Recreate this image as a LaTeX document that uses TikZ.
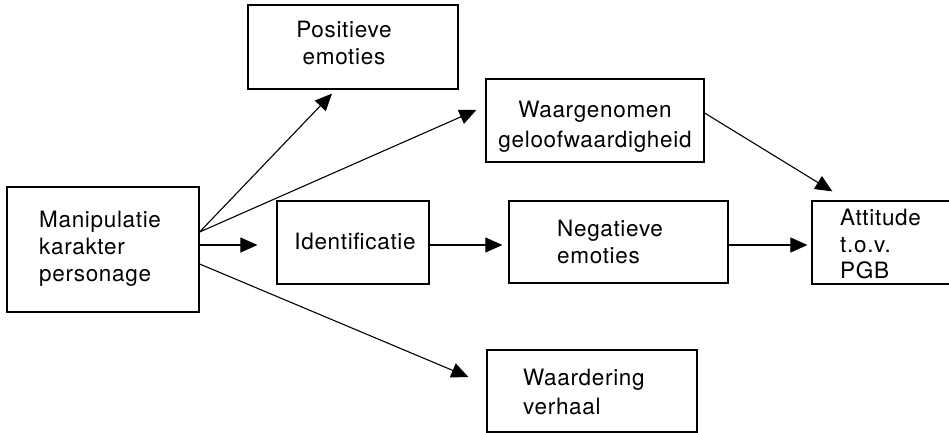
\documentclass[tikz,border=0pt]{standalone}
\usepackage{fontspec}
\setmainfont[LetterSpace=3]{TeX Gyre Heros}
\usetikzlibrary{arrows.meta,calc}
\tikzset{
  box/.style={draw, line width=1.2pt, inner sep=0pt, fill=none},
  arr/.style={-{Triangle[length=17pt,width=15pt]}, line width=1.1pt},
  txt/.style={inner sep=0pt, font=\fontsize{22.5}{27}\selectfont}
}
\begin{document}
\begin{tikzpicture}[x=1pt,y=-1pt]
\clip (0,0) rectangle (949,433);
% boxes
\node[box, minimum width=192pt, minimum height=125pt] (man) at (103,249.5) {};
\node[box, minimum width=210pt, minimum height=84pt] (pos) at (353,47) {};
\node[box, minimum width=218pt, minimum height=83pt] (waar) at (595,120.5) {};
\node[box, minimum width=152pt, minimum height=83pt] (ident) at (353,242.5) {};
\node[box, minimum width=219pt, minimum height=82pt] (neg) at (618.5,242) {};
\node[box, minimum width=148pt, minimum height=83pt] (att) at (886,242.5) {};
\node[box, minimum width=210pt, minimum height=82pt] (waard) at (592,391) {};
% texts
\node[txt, align=center, anchor=base] (tpos) at (344,65) {Positieve\\emoties};
\node[txt, font=\fontsize{22.5}{30}\selectfont, align=center, anchor=base] (twaar) at (595,147.3) {Waargenomen\\geloofwaardigheid};
\node[txt, align=left, anchor=base west] (tman) at (39,281) {Manipulatie\\karakter\\personage};
\node[txt, anchor=base] (tident) at (355,249) {Identificatie};
\node[txt, align=left, anchor=base west] (tneg) at (557,263) {Negatieve\\emoties};
\node[txt, font=\fontsize{22.5}{26.3}\selectfont, align=left, anchor=base west] (tatt) at (840,278.3) {Attitude\\t.o.v.\\PGB};
\node[txt, font=\fontsize{22.5}{29}\selectfont, align=left, anchor=base west] (twaard) at (523,414) {Waardering\\verhaal};
% arrows
\draw[arr] ([yshift=17.5pt]man.east) -- ([xshift=-21pt,yshift=-4pt]pos.south);
\draw[arr] ([yshift=17.5pt]man.east) -- ([xshift=-9pt,yshift=10.5pt]waar.west);
\draw[arr] ([yshift=4.5pt]man.east) -- ([xshift=-19pt,yshift=-2.5pt]ident.west);
\draw[arr] ([yshift=-14.5pt]man.east) -- ([xshift=-18pt,yshift=14pt]waard.west);
\draw[arr] ([yshift=-2.5pt]ident.east) -- ([xshift=-6pt,yshift=-3pt]neg.west);
\draw[arr] ([yshift=-3pt]neg.east) -- ([xshift=-4pt,yshift=-2.5pt]att.west);
\draw[arr] ([yshift=7.5pt]waar.east) -- ([xshift=21pt,yshift=9pt]att.north west);
\end{tikzpicture}
\end{document}
